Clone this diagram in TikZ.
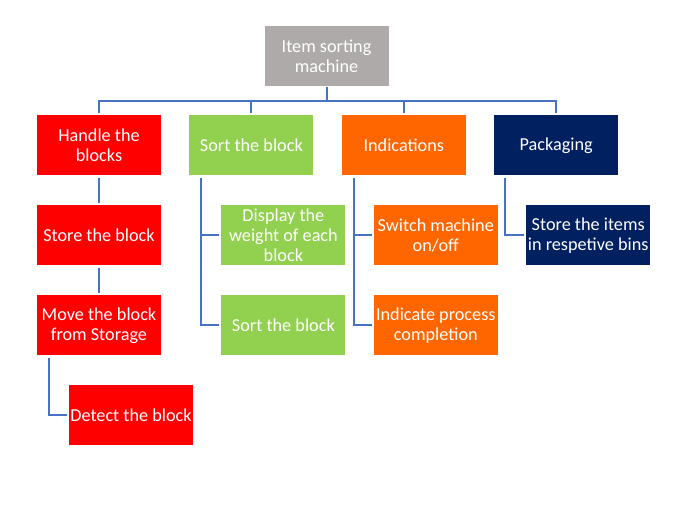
\documentclass[tikz,border=0pt]{standalone}
\usepackage{fontspec}
\setmainfont{Carlito}
\usetikzlibrary{positioning}
\definecolor{topgray}{HTML}{AEAAAA}
\definecolor{taskred}{HTML}{FF0000}
\definecolor{taskgreen}{HTML}{92D050}
\definecolor{taskorange}{HTML}{FF6600}
\definecolor{tasknavy}{HTML}{002060}
\definecolor{linkblue}{HTML}{4472C4}
\begin{document}
\begin{tikzpicture}[x=1bp, y=-1bp, node distance = 29.5bp and 28bp]
        \def\colortop{topgray}
        \def\colorhandle{taskred}
        \def\colorsort{taskgreen}
        \def\colorindic{taskorange}
        \def\colorpack{tasknavy}
        \tikzset{task/.style={
                align=center,
                text=white,
                minimum width = 124bp,
                minimum height = 60bp,
                inner xsep = 1bp,
                inner ysep = 0pt,
                font=\fontsize{18.3}{20}\selectfont
        }}
        \tikzset{toptask/.style={task, fill=\colortop}}
        \tikzset{handletask/.style={task, fill=\colorhandle}}
        \tikzset{sorttask/.style={task, fill=\colorsort}}
        \tikzset{indictask/.style={task, fill=\colorindic}}
        \tikzset{packtask/.style={task, fill=\colorpack}}
        \tikzset{connector/.style={draw=linkblue, line width=2bp, shorten >=2bp}}

        \useasboundingbox (0,0) rectangle (684,516);

        \node[toptask] (machine) at (326.5,56.5) {Item sorting\\ machine};
        \node[handletask] (handle) at (99,145.5) {Handle the\\ blocks};
        \node[sorttask, right=of handle] (sortb) {Sort the block};
        \node[indictask, right=of sortb] (indic) {Indications};
        \node[packtask, right=of indic] (pack) {Packaging};

        \node[handletask, below=of handle] (store) {Store the block};
        \node[handletask, below=of store] (move) {Move the block\\ from Storage};
        \node[handletask, below=of move, xshift=32bp] (detect) {Detect the block};

        \node[sorttask, below=of sortb, xshift=32bp] (weigh) {Display the\\ weight of each\\ block};
        \node[sorttask, below=of weigh] (sortc) {Sort the block};

        \node[indictask, below=of indic, xshift=32bp] (switch) {Switch machine\\ on/off};
        \node[indictask, below=of switch] (done) {Indicate process\\ completion};

        \node[packtask, below=of pack, xshift=32bp] (bins) {Store the items\\ in respetive bins};

        \coordinate (bus) at (326.5,101);
        \draw[connector, shorten >=0pt] (machine.south) -- (bus);
        \foreach \n in {handle,sortb,indic,pack}
                \draw[connector] (bus) -| (\n.north);

        \draw[connector, shorten <=2bp] (handle) -- (store);
        \draw[connector, shorten <=2bp] (store) -- (move);
        \draw[connector, shorten <=2bp] ([xshift=12bp]move.south west) |- (detect.west);

        \draw[connector, shorten <=2bp] ([xshift=12bp]sortb.south west) |- (weigh.west);
        \draw[connector, shorten <=2bp] ([xshift=12bp]sortb.south west) |- (sortc.west);

        \draw[connector, shorten <=2bp] ([xshift=12bp]indic.south west) |- (switch.west);
        \draw[connector, shorten <=2bp] ([xshift=12bp]indic.south west) |- (done.west);

        \draw[connector, shorten <=2bp] ([xshift=11bp]pack.south west) |- (bins.west);
\end{tikzpicture}
\end{document}
